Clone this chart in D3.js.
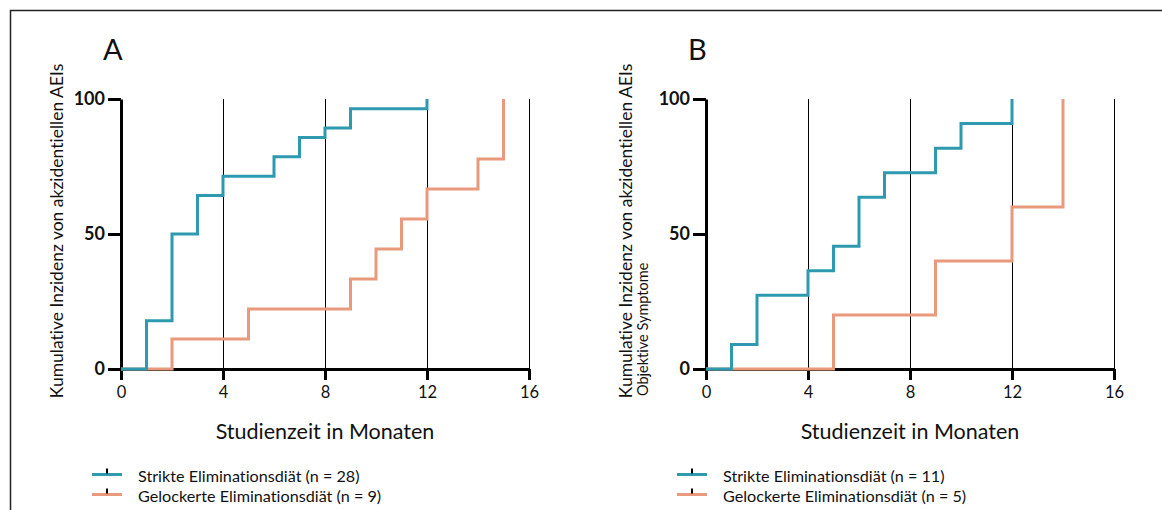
<!DOCTYPE html>
<html><head><meta charset="utf-8">
<script src="https://cdn.jsdelivr.net/npm/d3@7/dist/d3.min.js"></script>
<style>
html,body{margin:0;padding:0;background:#fff;}
text{font-family:Lato,"Open Sans",sans-serif;fill:#111;font-variant-ligatures:none;font-feature-settings:"liga" 0;}
</style></head>
<body><svg id="c" width="1162" height="510"></svg>
<script>
// ---- data ----
const xTicks = [0, 4, 8, 12, 16];
const yTicks = [0, 50, 100];
const panelLabels = ["A", "B"];
const yTitle = "Kumulative Inzidenz von akzidentiellen AEIs";
const yTitleSubB = "Objektive Symptome";
const xTitle = "Studienzeit in Monaten";

const strictA_t = [0, 1, 2, 3, 4, 6, 7, 8, 9, 12];
const strictA_v = [0, 17.9, 50, 64.3, 71.4, 78.6, 85.7, 89.3, 96.4, 100];
const looseA_t = [0, 2, 5, 9, 10, 11, 12, 14, 15];
const looseA_v = [0, 11.1, 22.2, 33.3, 44.4, 55.6, 66.7, 77.8, 100];

const strictB_t = [0, 1, 2, 4, 5, 6, 7, 9, 10, 12];
const strictB_v = [0, 9.1, 27.3, 36.4, 45.5, 63.6, 72.7, 81.8, 90.9, 100];
const looseB_t = [0, 5, 9, 12, 14];
const looseB_v = [0, 20, 40, 60, 100];

const legendA = ["Strikte Eliminationsdiät (n = 28)", "Gelockerte Eliminationsdiät (n = 9)"];
const legendB = ["Strikte Eliminationsdiät (n = 11)", "Gelockerte Eliminationsdiät (n = 5)"];

const BLUE = "#2e9ab0", ORANGE = "#e9997c";

const svg = d3.select("#c");
svg.append("rect").attr("width",1162).attr("height",510).attr("fill","#fff");
// frame
svg.append("path").attr("d","M10.5,510 V10.5 H1162").attr("fill","none").attr("stroke","#222").attr("stroke-width",1.5);

function panel(opt){
  const x = d3.scaleLinear().domain([0,16]).range([opt.x0, opt.x0+408]);
  const y = d3.scaleLinear().domain([0,100]).range([369, 99]);
  const g = svg.append("g");
  // gridlines
  g.selectAll("line.grid").data(xTicks.filter(d=>d>0)).enter().append("line")
    .attr("x1",d=>x(d)+0.5).attr("x2",d=>x(d)+0.5).attr("y1",y(0)).attr("y2",y(100))
    .attr("stroke","#000").attr("stroke-width",1);
  // x axis
  const xa = g.append("g").attr("transform",`translate(0,${y(0)})`)
    .call(d3.axisBottom(x).tickValues(xTicks).tickSize(11).tickSizeOuter(0).tickPadding(6));
  xa.select(".domain").attr("stroke","#000").attr("stroke-width",3);
  xa.selectAll(".tick line").attr("stroke","#000").attr("stroke-width",3);
  xa.selectAll(".tick text").attr("font-size",16.5).attr("font-family","Lato").attr("fill","#111");
  // y axis
  const ya = g.append("g").attr("transform",`translate(${opt.x0},0)`)
    .call(d3.axisLeft(y).tickValues(yTicks).tickSize(13).tickSizeOuter(0).tickPadding(3));
  ya.select(".domain").attr("stroke","#000").attr("stroke-width",3);
  ya.selectAll(".tick line").attr("stroke","#000").attr("stroke-width",3);
  ya.selectAll(".tick text").attr("font-size",18).attr("font-weight","bold").attr("font-family","Lato").attr("fill","#111");
  // lines
  const line = d3.line().x(d=>x(d[0])).y(d=>y(d[1])).curve(d3.curveStepAfter);
  const series = [
    {t:opt.looseT, v:opt.looseV, c:ORANGE},
    {t:opt.strictT, v:opt.strictV, c:BLUE}
  ];
  series.forEach(s=>{
    g.append("path").datum(s.t.map((t,i)=>[t,s.v[i]])).attr("d",line)
      .attr("fill","none").attr("stroke",s.c).attr("stroke-width",3);
  });
  // titles
  g.append("text").attr("x",opt.x0-18).attr("y",60).attr("font-size",29).text(opt.label);
  g.append("text").attr("transform",`translate(${opt.ytx},231) rotate(-90)`)
    .attr("text-anchor","middle").attr("font-size",17.5).text(yTitle);
  if(opt.sub){
    g.append("text").attr("transform",`translate(${opt.ytx+16},396) rotate(-90)`)
      .attr("text-anchor","start").attr("font-size",14.5).text(opt.sub);
  }
  g.append("text").attr("x",x(8)).attr("y",439).attr("text-anchor","middle")
    .attr("font-size",21.5).text(xTitle);
  // legend
  const lx = opt.x0-29;
  [[BLUE,474.5,opt.legend[0]],[ORANGE,494.5,opt.legend[1]]].forEach(([c,ly,txt])=>{
    g.append("line").attr("x1",lx).attr("x2",lx+30).attr("y1",ly).attr("y2",ly)
      .attr("stroke",c).attr("stroke-width",3);
    g.append("line").attr("x1",lx+15).attr("x2",lx+15).attr("y1",ly-6).attr("y2",ly-1)
      .attr("stroke","#000").attr("stroke-width",2);
    g.append("text").attr("x",lx+46).attr("y",ly+7).attr("font-size",16.2).text(txt);
  });
}

panel({x0:121, label:panelLabels[0], ytx:63, strictT:strictA_t, strictV:strictA_v, looseT:looseA_t, looseV:looseA_v, legend:legendA});
panel({x0:706, label:panelLabels[1], ytx:632, sub:yTitleSubB, strictT:strictB_t, strictV:strictB_v, looseT:looseB_t, looseV:looseB_v, legend:legendB});
</script></body></html>
